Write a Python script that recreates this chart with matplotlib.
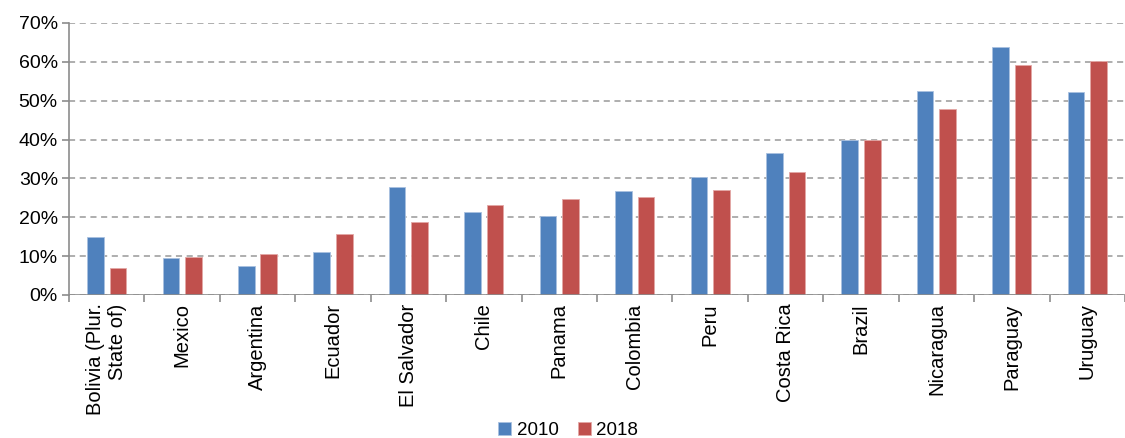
import numpy as np
import matplotlib.pyplot as plt
from matplotlib.ticker import PercentFormatter

plt.rcParams['font.family'] = ['Liberation Sans', 'DejaVu Sans']

countries = ["Bolivia (Plur.\nState of)", "Mexico", "Argentina", "Ecuador", "El Salvador",
             "Chile", "Panama", "Colombia", "Peru", "Costa Rica", "Brazil",
             "Nicaragua", "Paraguay", "Uruguay"]
v2010 = [14.9, 9.4, 7.5, 11.1, 27.9, 21.4, 20.3, 26.8, 30.4, 36.6, 39.9, 52.5, 63.9, 52.2]
v2018 = [7.0, 9.8, 10.5, 15.6, 18.8, 23.1, 24.6, 25.1, 27.0, 31.7, 39.9, 47.8, 59.3, 60.3]

fig = plt.figure(figsize=(11.25, 4.38), dpi=100)
ax = fig.add_axes([0.0613, 0.3265, 0.9387, 0.621])

x = np.arange(len(countries))
w = 0.22
off = 0.149
ax.bar(x - off, v2010, w, color='#4F81BD', edgecolor='#A9C1E0', linewidth=0.6, label='2010', zorder=3)
ax.bar(x + off, v2018, w, color='#C0504D', edgecolor='#E3A7A5', linewidth=0.6, label='2018', zorder=3)

ax.set_ylim(0, 70)
ax.set_xlim(-0.5, 13.33)
ax.set_yticks(range(0, 71, 10))
ax.yaxis.set_major_formatter(PercentFormatter(decimals=0))
ax.yaxis.grid(True, linestyle=(0, (4, 3)), color='#999999', linewidth=1.1, zorder=0)
ax.axhline(0, color='#8C8C8C', linewidth=1.2, zorder=4)

for s in ['top', 'right', 'bottom']:
    ax.spines[s].set_visible(False)
ax.spines['left'].set_color('#8C8C8C')
ax.spines['left'].set_linewidth(1.2)

ax.set_xticks(x)
ax.set_xticks(np.arange(-0.5, 14, 1), minor=True)
ax.set_xticklabels(countries, rotation=90, fontsize=14.5, va='top', ha='center')
labels = ax.get_xticklabels()
labels[0].set_multialignment('right')
ax.tick_params(axis='x', which='major', length=0, pad=6)
ax.tick_params(axis='x', which='minor', length=5, color='#8C8C8C', width=1.2)
ax.tick_params(axis='y', length=5, color='#8C8C8C', width=1.2, labelsize=14, pad=3)

fig.legend(loc='lower center', ncol=2, frameon=False, fontsize=13.5,
           handlelength=0.7, handleheight=0.7, handletextpad=0.3, columnspacing=1.0,
           bbox_to_anchor=(0.505, -0.04))

fig.savefig('out.png', dpi=100)
